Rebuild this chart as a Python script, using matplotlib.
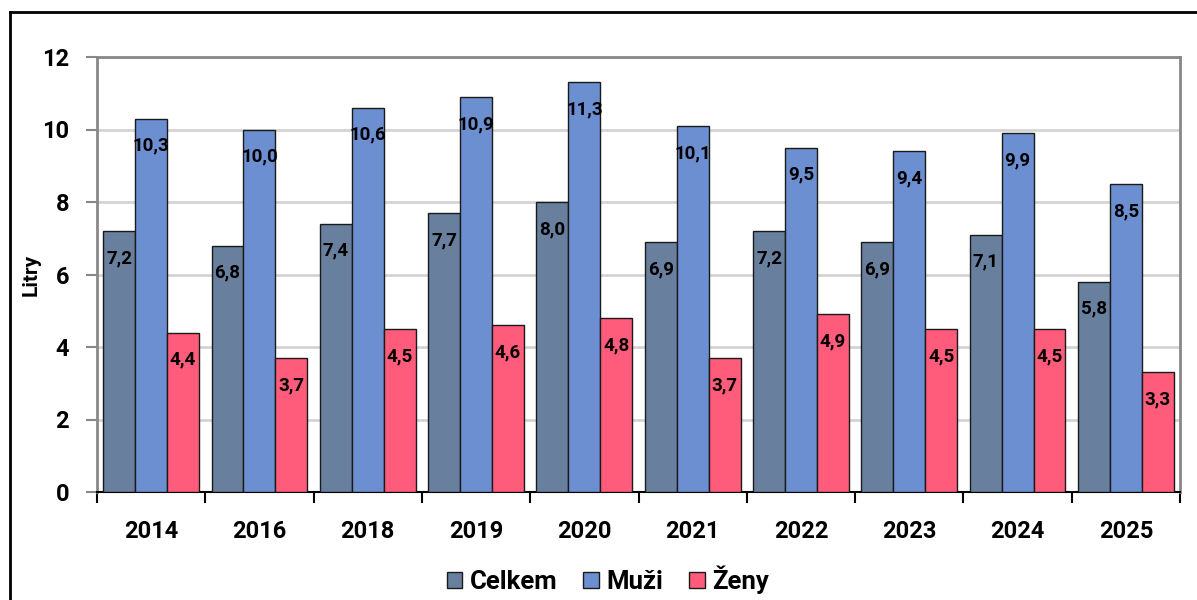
import numpy as np
import matplotlib
matplotlib.use("Agg")
import matplotlib.pyplot as plt
from matplotlib.lines import Line2D

roky = ["2014", "2016", "2018", "2019", "2020", "2021", "2022", "2023", "2024", "2025"]
celkem = [7.2, 6.8, 7.4, 7.7, 8.0, 6.9, 7.2, 6.9, 7.1, 5.8]
muzi = [10.3, 10.0, 10.6, 10.9, 11.3, 10.1, 9.5, 9.4, 9.9, 8.5]
zeny = [4.4, 3.7, 4.5, 4.6, 4.8, 3.7, 4.9, 4.5, 4.5, 3.3]

serie = [("Celkem", celkem, "#687F9E"), ("Muži", muzi, "#6C8FD1"), ("Ženy", zeny, "#FF5B7B")]

plt.rcParams.update({"font.family": ["Roboto", "DejaVu Sans"], "font.weight": "bold"})
fig = plt.figure(figsize=(11.97, 6), dpi=100)
ax = fig.add_axes([97 / 1197, 1 - 492 / 600, (1180 - 97) / 1197, (492 - 57) / 600])

x = np.arange(len(roky))
w = 0.295
for i, (nazev, vals, barva) in enumerate(serie):
    pos = x + (i - 1) * w
    ax.bar(pos, vals, width=w, color=barva, edgecolor="#1a1a1a", linewidth=1.0,
           label=nazev, zorder=3)
    for p, v in zip(pos, vals):
        ax.annotate(f"{v:.1f}".replace(".", ","), (p, v), textcoords="offset points",
                    xytext=(0, -19.5), ha="center", va="center", fontsize=13.5,
                    fontweight="bold", color="black", zorder=4)

ax.set_xlim(-0.5, len(roky) - 0.5)
ax.set_ylim(0, 12)
ax.set_yticks(range(0, 13, 2))
ax.grid(axis="y", color="#D4D4D4", linewidth=2, zorder=0)
ax.set_axisbelow(True)

ax.set_xticks(x)
ax.set_xticklabels(roky, fontsize=17, fontweight="bold")
ax.set_xticks(np.arange(-0.5, len(roky), 1), minor=True)
ax.tick_params(axis="x", which="major", length=0, pad=20)
ax.tick_params(axis="x", which="minor", length=8, width=1.5, color="black")
ax.tick_params(axis="y", length=8, width=1.5, color="#888888", labelsize=17, pad=12)
for t in ax.get_yticklabels():
    t.set_fontweight("bold")

for s in ["left", "top", "right"]:
    ax.spines[s].set_color("#888888")
    ax.spines[s].set_linewidth(2)
ax.spines["bottom"].set_color("black")
ax.spines["bottom"].set_linewidth(1.5)

ax.set_ylabel("Litry", fontsize=15, fontweight="bold", labelpad=1)

fig.legend(loc="center", bbox_to_anchor=(0.508, 1 - 580 / 600), ncol=3, frameon=False,
           prop={"size": 18.5, "weight": "bold"}, handlelength=0.6, handleheight=0.6,
           handletextpad=0.3, columnspacing=1.0)

# vnější rámeček grafu
x0 = 10 / 1197
y0 = 1 - 12 / 600
fig.add_artist(Line2D([x0, x0], [0, y0], transform=fig.transFigure, color="black", linewidth=2))
fig.add_artist(Line2D([x0, 1], [y0, y0], transform=fig.transFigure, color="black", linewidth=2))

fig.savefig("out.png", dpi=100, facecolor="white")
